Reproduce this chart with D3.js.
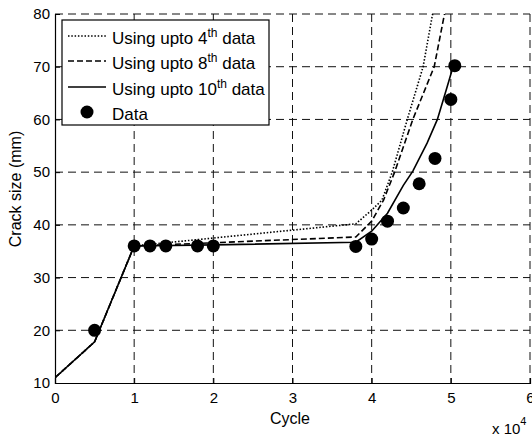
<!DOCTYPE html>
<html>
<head>
<meta charset="utf-8">
<script src="https://cdn.jsdelivr.net/npm/d3@7"></script>
<style>
  body { margin: 0; background: #fff; }
  svg text { font-family: "Liberation Sans", Arial, Helvetica, sans-serif; fill: #000; }
</style>
</head>
<body>
<div id="chart"></div>
<script>
// measured data (cycle in units of 1e4, crack size in mm)
var dataCycle = [0.5, 1.0, 1.2, 1.4, 1.8, 2.0, 3.8, 4.0, 4.2, 4.4, 4.6, 4.8, 5.0, 5.05];
var dataCrack = [20, 36, 36, 36, 36, 36, 35.9, 37.3, 40.7, 43.2, 47.8, 52.6, 63.8, 70.2];

// predictions
var cycle4 = [0, 0.5, 1.0, 3.8, 4.0, 4.13, 4.26, 4.45, 4.65, 4.77, 4.82];
var crack4 = [11, 17.8, 36, 40.2, 42.8, 44.7, 50, 60, 70, 80, 86];
var cycle8 = [0, 0.5, 1.0, 3.8, 4.0, 4.15, 4.29, 4.52, 4.79, 4.92, 4.97];
var crack8 = [11, 17.8, 36, 37.7, 40.7, 44.7, 50, 60, 70, 80, 86];
var cycle10 = [0, 0.5, 1.0, 2.0, 3.8, 4.0, 4.2, 4.4, 4.52, 4.7, 4.83, 4.95, 5.04];
var crack10 = [11, 17.8, 36, 36.2, 36.7, 38.8, 42.2, 47.5, 50.2, 55.5, 60, 66, 70.6];

var xTicks = [0, 1, 2, 3, 4, 5, 6];
var yTicks = [10, 20, 30, 40, 50, 60, 70, 80];
var legendLabels = [["Using upto 4", "th", " data"], ["Using upto 8", "th", " data"], ["Using upto 10", "th", " data"], ["Data"]];

var width = 532, height = 436;
var plot = {left: 55, right: 530, top: 14, bottom: 383};

var svg = d3.select("#chart").append("svg")
    .attr("width", width)
    .attr("height", height);

var x = d3.scaleLinear().domain([0, 6]).range([plot.left, plot.right]);
var y = d3.scaleLinear().domain([10, 80]).range([plot.bottom, plot.top]);

svg.append("clipPath").attr("id", "clip")
    .append("rect")
    .attr("x", plot.left).attr("y", plot.top)
    .attr("width", plot.right - plot.left).attr("height", plot.bottom - plot.top);

// grid
var grid = svg.append("g").attr("class", "grid");
grid.selectAll("line.v").data(xTicks.slice(1)).enter().append("line")
    .attr("x1", function (d) { return x(d); }).attr("x2", function (d) { return x(d); })
    .attr("y1", plot.top).attr("y2", plot.bottom)
    .attr("stroke", "#111").attr("stroke-width", 1).attr("stroke-dasharray", "8,5");
grid.selectAll("line.h").data(yTicks.slice(1)).enter().append("line")
    .attr("y1", function (d) { return y(d); }).attr("y2", function (d) { return y(d); })
    .attr("x1", plot.left).attr("x2", plot.right)
    .attr("stroke", "#111").attr("stroke-width", 1).attr("stroke-dasharray", "8,5");

// axes (MATLAB-like: ticks inside)
var xAxis = d3.axisBottom(x).tickValues(xTicks).tickSize(-5).tickPadding(9).tickFormat(d3.format("d"));
var yAxis = d3.axisLeft(y).tickValues(yTicks).tickSize(-5).tickPadding(5).tickFormat(d3.format("d"));

var gx = svg.append("g").attr("transform", "translate(0," + plot.bottom + ")").call(xAxis);
var gy = svg.append("g").attr("transform", "translate(" + plot.left + ",0)").call(yAxis);
[gx, gy].forEach(function (g) {
    g.select(".domain").attr("stroke", "#000").attr("stroke-width", 1.2);
    g.selectAll(".tick line").attr("stroke", "#000");
    g.selectAll(".tick text").style("font-size", "15px").attr("fill", "#000");
});
gx.selectAll(".tick text").attr("dy", "0.71em");

// lines
var line = d3.line()
    .x(function (d) { return x(d[0]); })
    .y(function (d) { return y(d[1]); });

var series = [
    {xs: cycle4, ys: crack4, dash: "1.5,1.8"},
    {xs: cycle8, ys: crack8, dash: "6,3"},
    {xs: cycle10, ys: crack10, dash: null}
];

var lines = svg.append("g").attr("clip-path", "url(#clip)");
series.forEach(function (s) {
    var pts = s.xs.map(function (v, i) { return [v, s.ys[i]]; });
    lines.append("path")
        .attr("d", line(pts))
        .attr("fill", "none")
        .attr("stroke", "#000")
        .attr("stroke-width", 1.6)
        .attr("stroke-dasharray", s.dash);
});

lines.selectAll("circle").data(dataCycle).enter().append("circle")
    .attr("cx", function (d) { return x(d); })
    .attr("cy", function (d, i) { return y(dataCrack[i]); })
    .attr("r", 6.5)
    .attr("fill", "#000");

// axis labels
svg.append("text")
    .attr("x", 290).attr("y", 424)
    .attr("text-anchor", "middle")
    .style("font-size", "16px")
    .text("Cycle");

svg.append("text")
    .attr("transform", "translate(21,189) rotate(-90)")
    .attr("text-anchor", "middle")
    .style("font-size", "16px")
    .text("Crack size (mm)");

var mult = svg.append("text")
    .attr("x", 492).attr("y", 434)
    .style("font-size", "15px");
mult.append("tspan").text("x 10");
mult.append("tspan").attr("dy", "-9").style("font-size", "11px").text("4");

// legend
var legend = svg.append("g");
legend.append("rect")
    .attr("x", 62).attr("y", 20)
    .attr("width", 207).attr("height", 105)
    .attr("fill", "#fff")
    .attr("stroke", "#000")
    .attr("stroke-width", 1.2);

var rowY = [36, 61, 87, 112];
legendLabels.forEach(function (lab, i) {
    var cy = rowY[i];
    if (i < 3) {
        legend.append("line")
            .attr("x1", 68).attr("x2", 106)
            .attr("y1", cy).attr("y2", cy)
            .attr("stroke", "#000")
            .attr("stroke-width", 1.6)
            .attr("stroke-dasharray", series[i].dash);
    } else {
        legend.append("circle").attr("cx", 87).attr("cy", cy).attr("r", 6.5).attr("fill", "#000");
    }
    var t = legend.append("text")
        .attr("x", 112).attr("y", cy + 8)
        .style("font-size", "17px");
    t.append("tspan").text(lab[0]);
    if (lab.length > 1) {
        t.append("tspan").attr("dy", "-7").style("font-size", "12px").text(lab[1]);
        t.append("tspan").attr("dy", "7").text(lab[2]);
    }
});
</script>
</body>
</html>
